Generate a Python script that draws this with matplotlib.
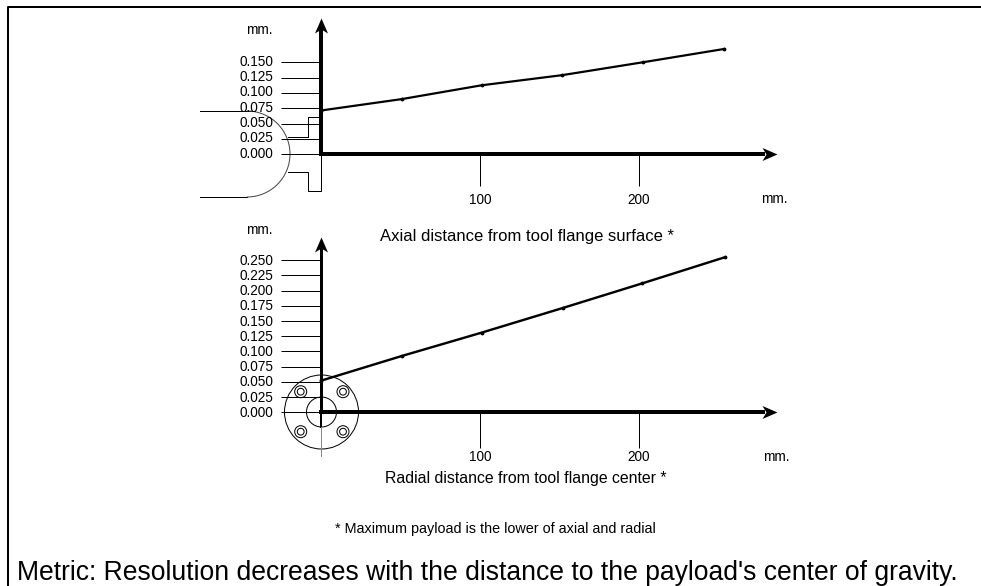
import matplotlib
matplotlib.use('Agg')
import matplotlib.pyplot as plt
from matplotlib.lines import Line2D
from matplotlib.patches import Arc, Circle
from matplotlib.path import Path
from matplotlib.transforms import Affine2D

plt.rcParams['font.family'] = ['Liberation Sans', 'DejaVu Sans']

W, H = 981, 586

# values
axial_x = [0, 50.8, 101, 151.6, 202.4, 253.5]
axial_y = [0.0714, 0.090, 0.1125, 0.129, 0.150, 0.1717]
radial_x = [0, 50.8, 101, 152, 202, 254]
radial_y = [0.052, 0.0926, 0.131, 0.1715, 0.212, 0.255]

axial_yticks = [0.000, 0.025, 0.050, 0.075, 0.100, 0.125, 0.150]
radial_yticks = [0.000, 0.025, 0.050, 0.075, 0.100, 0.125, 0.150, 0.175, 0.200, 0.225, 0.250]
xticks = [100, 200]

axial_title = 'Axial distance from tool flange surface *'
radial_title = 'Radial distance from tool flange center *'
footnote = '* Maximum payload is the lower of axial and radial'
caption = "Metric: Resolution decreases with the distance to the payload's center of gravity."

PT = 72 / 100  # one pixel in points

fig = plt.figure(figsize=(W / 100, H / 100), dpi=100)
to_px = Affine2D().scale(1, -1).translate(0, H)  # pixels, y from the top


def make_axes(x0, y0, x1, y1, xmax, ymax, yticks, xtick_len, xtick_pad, left_w, label_up):
    ax = fig.add_axes([x0 / W, 1 - y0 / H, (x1 - x0) / W, (y0 - y1) / H])
    ax.patch.set_visible(False)
    ax.set_xlim(0, xmax)
    ax.set_ylim(0, ymax)
    for side in ['top', 'right']:
        ax.spines[side].set_visible(False)
    ax.spines['left'].set_linewidth(left_w * PT)
    ax.spines['bottom'].set_linewidth(4 * PT)
    # stop the axis lines inside the arrow heads
    ax.spines['bottom'].set_bounds(0, xmax * 0.97)
    ax.spines['left'].set_bounds(0, ymax * 0.93)
    ax.set_yticks(yticks)
    ax.set_yticklabels(['%.3f' % t for t in yticks], fontsize=9.8)
    ax.set_xticks(xticks)
    ax.set_xticklabels([str(t) for t in xticks], fontsize=9.8)
    ax.tick_params(axis='y', length=40 * PT, width=1 * PT, pad=8 * PT)
    ax.tick_params(axis='x', length=xtick_len * PT, width=1 * PT, pad=xtick_pad * PT)
    # labels sit a little above their tick lines
    for text in ax.get_yticklabels():
        text.set_transform(text.get_transform() + Affine2D().translate(0, label_up))
    # stealth arrow heads on both axes
    head = Path([(0, 0), (-15, 6.5), (-11, 0), (-15, -6.5), (0, 0)], closed=True)
    ax.plot(1, 0, marker=head, ms=30 * PT, color='black', mew=0,
            transform=ax.transAxes, clip_on=False)
    up = head.transformed(Affine2D().rotate_deg(90))
    ax.plot(0, 1, marker=up, ms=30 * PT, color='black', mew=0,
            transform=ax.transAxes, clip_on=False)
    return ax


def sketch_line(xs, ys, color='black', lw=1.0):
    fig.add_artist(Line2D(xs, ys, color=color, lw=lw * PT, transform=to_px, zorder=-1))


ax1 = make_axes(321, 154.3, 777, 18, 286.8, 0.2222, axial_yticks, 32, 7, 4, 2)
ax1.plot(axial_x, axial_y, color='black', lw=2.2 * PT, marker='.', ms=3.5, clip_on=False)

ax2 = make_axes(321, 412.3, 777, 237, 286.8, 0.2883, radial_yticks, 36, 2, 3, 1)
ax2.plot(radial_x, radial_y, color='black', lw=2.4 * PT, marker='.', ms=3.5, clip_on=False)

# tool flange, side view
sketch_line([200, 255], [111, 111])
sketch_line([200, 247], [197, 197])
fig.add_artist(Arc((247, 154), 86, 86, theta1=-90, theta2=90, color='#444444', lw=1 * PT,
                   transform=to_px, zorder=-1))
sketch_line([288, 308.3, 308.3, 321], [136.7, 136.7, 117.3, 117.3])
sketch_line([288, 308.3, 308.3, 320.5, 320.5], [171.7, 171.7, 190.7, 190.7, 154])

# tool flange, front view
for radius in [37, 15]:
    fig.add_artist(Circle((321.5, 412), radius, fill=False, color='black', lw=1 * PT,
                          transform=to_px, zorder=-1))
for cx, cy in [(300.7, 391.7), (343, 391.7), (300.7, 431.7), (343, 431.7)]:
    for radius in [6, 3.4]:
        fig.add_artist(Circle((cx, cy), radius, fill=False, color='black', lw=1 * PT,
                              transform=to_px, zorder=-1))
sketch_line([321, 321], [412, 427], lw=2)
sketch_line([321, 321], [427, 456], color='#888888')

# page frame
sketch_line([8, 8, W], [H, 7, 7], lw=2)


def label(x, y, s, size, ha='center', va='center'):
    fig.text(x / W, 1 - y / H, s, fontsize=size, ha=ha, va=va)


label(259, 30, 'mm.', 9.8)
label(259, 230, 'mm.', 9.8)
label(774, 199, 'mm.', 9.8)
label(776, 457, 'mm.', 9.8)
label(527.5, 236, axial_title, 12)
label(526, 479, radial_title, 11.45)
label(495, 529, footnote, 10.4)
label(17, 580, caption, 19.1, ha='left', va='baseline')

fig.savefig('out.png', dpi=100)
